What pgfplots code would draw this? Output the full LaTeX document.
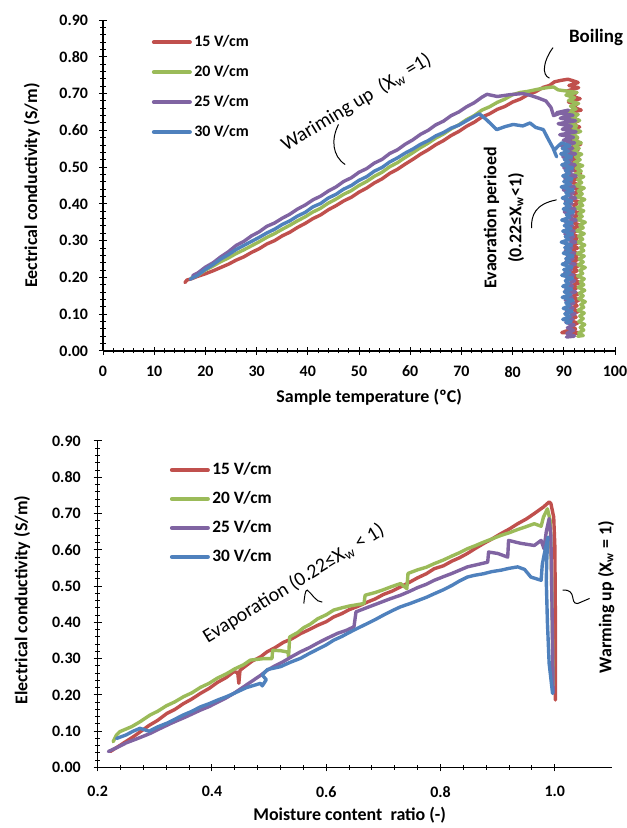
\documentclass[border=0pt]{standalone}
\usepackage{fontspec}
\setmainfont{Carlito}
\usepackage{pgfplots}
\pgfplotsset{compat=1.18}

\definecolor{sRed}{HTML}{C0504D}
\definecolor{sGreen}{HTML}{9BBB59}
\definecolor{sPurple}{HTML}{8064A2}
\definecolor{sBlue}{HTML}{4F81BD}

\tikzset{lbl/.style={font=\bfseries\fontsize{9}{11}\selectfont, anchor=center}}
\pgfplotsset{
  ecplot/.style={
    scale only axis, axis lines*=left, clip=false,
    axis line style={line width=0.6bp, -},
    tick align=center, major tick length=4bp, minor tick length=2.5bp,
    every tick/.style={black, line width=0.5bp},
    ymin=0, ymax=0.9, ytick={0,0.1,0.2,0.3,0.4,0.5,0.6,0.7,0.8,0.9},
    minor y tick num=4, minor x tick num=4,
    /pgf/number format/assume math mode=true,
    ticklabel style={font=\bfseries\fontsize{8}{9.6}\selectfont},
    yticklabel style={/pgf/number format/fixed, /pgf/number format/fixed zerofill,
      /pgf/number format/precision=2, xshift=-2bp},
    legend cell align=left,
    legend image code/.code={\draw[line width=2bp, line cap=round] (0bp,0bp) -- (18bp,0bp);},
    every axis plot/.append style={line width=1.7bp, line join=round, line cap=round},
  },
}

\begin{document}
\begin{tikzpicture}
\path[use as bounding box] (0,0) rectangle (313.5bp,414bp);

% ---------- top: conductivity vs temperature ----------
\begin{axis}[ecplot,
  at={(51.5bp,238.5bp)}, anchor=south west,
  width=256bp, height=165.5bp,
  xmin=0, xmax=100, xtick={0,10,20,30,40,50,60,70,80,90,100},
  xticklabel style={yshift=-2bp},
  xlabel={Sample temperature (ºC)},
  ylabel={Eectrical conductivity (S/m)},
  every axis x label/.style={lbl, at={(axis description cs:0.52,-0.139)}},
  every axis y label/.style={lbl, at={(axis description cs:-0.139,0.5)}, rotate=90},
  legend style={draw=none, fill=none, at={(0.083,0.975)}, anchor=north west,
    row sep=5.5bp, font=\bfseries\fontsize{8}{9.6}\selectfont, nodes={inner sep=1.2bp}},
]
\addplot[sRed] coordinates {
(16.0,0.186)(16.4,0.193)(17.2,0.196)(18.5,0.203)(20,0.210)(21.5,0.218)(23,0.227)(24.5,0.236)
(26,0.247)(27.5,0.256)(29,0.268)(30.5,0.278)(32,0.291)(33.5,0.300)(35,0.313)(36.5,0.323)
(38,0.336)(39.5,0.347)(41,0.360)(42.5,0.370)(44,0.384)(45.5,0.395)(47,0.408)(48.5,0.418)
(50,0.432)(51.5,0.443)(53,0.457)(54.5,0.468)(56,0.483)(57.5,0.494)(59,0.508)(60.5,0.521)
(62,0.535)(63.5,0.547)(65,0.561)(66.5,0.572)(68,0.586)(69.5,0.597)(71,0.611)(72.5,0.622)
(74,0.636)(75.5,0.645)(77,0.657)(78.5,0.665)(80,0.677)(81.5,0.685)(83,0.697)(84.5,0.705)
(86,0.717)(87.2,0.722)(88.2,0.732)(89.5,0.736)(90.8,0.739)(92.0,0.734)(92.8,0.73)
(91.0,0.722)(92.9,0.716)(90.6,0.707)(92.3,0.700)(91.2,0.694)(93.2,0.686)(90.9,0.677)(92.6,0.671)
(91.6,0.664)(93.4,0.655)(91.1,0.648)(92.4,0.640)(90.7,0.632)(92.9,0.626)(91.5,0.617)(93.1,0.609)
(91.0,0.603)(92.2,0.594)(90.8,0.586)(92.7,0.579)(91.4,0.571)(93.3,0.562)(91.7,0.556)(92.8,0.547)
(91.2,0.539)(93.0,0.531)(91.6,0.524)(92.5,0.516)(91.0,0.508)(92.9,0.499)(91.8,0.492)(93.3,0.484)
(91.5,0.476)(92.6,0.468)(91.1,0.461)(92.9,0.452)(91.7,0.444)(93.4,0.437)(92.0,0.429)(92.8,0.420)
(91.3,0.413)(93.1,0.405)(91.9,0.397)(92.7,0.389)(91.4,0.382)(93.2,0.374)(92.1,0.366)(92.9,0.358)
(91.6,0.350)(93.3,0.342)(91.9,0.335)(92.6,0.327)(91.2,0.319)(92.9,0.311)(91.8,0.303)(93.2,0.296)
(91.5,0.288)(92.7,0.280)(91.3,0.272)(93.0,0.264)(92.0,0.257)(92.8,0.249)(91.4,0.241)(93.1,0.233)
(91.8,0.225)(92.6,0.218)(91.1,0.210)(92.9,0.202)(91.7,0.194)(93.2,0.186)(91.6,0.178)(92.5,0.171)
(91.2,0.163)(92.8,0.155)(91.5,0.147)(93.0,0.139)(91.9,0.131)(92.6,0.123)(91.3,0.116)(92.9,0.108)
(91.7,0.100)(92.4,0.092)(91.0,0.084)(92.7,0.076)(91.5,0.068)(92.3,0.060)(90.4,0.054)(89.6,0.050)
(92.8,0.048)(91.0,0.052)(93.0,0.050)
};
\addlegendentry{15 V/cm}
\addplot[sGreen] coordinates {
(17.2,0.198)(18.5,0.206)(20,0.220)(21.5,0.231)(23,0.243)(24.5,0.253)(26,0.265)(27.5,0.275)
(29,0.286)(30.5,0.297)(32,0.309)(33.5,0.319)(35,0.331)(36.5,0.342)(38,0.354)(39.5,0.365)
(41,0.378)(42.5,0.388)(44,0.402)(45.5,0.413)(47,0.426)(48.5,0.436)(50,0.450)(51.5,0.461)
(53,0.475)(54.5,0.486)(56,0.501)(57.5,0.512)(59,0.526)(60.5,0.539)(62,0.553)(63.5,0.565)
(65,0.579)(66.5,0.590)(68,0.604)(69.5,0.615)(71,0.629)(72.5,0.640)(74,0.655)(75.5,0.664)
(77,0.676)(78.5,0.685)(80,0.697)(81.5,0.703)(83,0.706)(85,0.712)(86.7,0.716)(88,0.718)(88.9,0.710)
(92.6,0.703)(90.4,0.696)(92.1,0.689)(90.9,0.681)(92.9,0.673)(91.3,0.666)(92.4,0.658)(90.7,0.650)
(92.8,0.643)(91.6,0.635)(93.1,0.627)(91.2,0.620)(92.5,0.612)(91.8,0.604)(93.3,0.597)(91.5,0.589)
(92.7,0.581)(91.9,0.574)(93.4,0.566)(92.0,0.558)(93.0,0.551)(91.7,0.543)(93.5,0.535)(92.3,0.528)
(93.2,0.520)(92.0,0.512)(93.7,0.504)(92.4,0.497)(93.4,0.489)(92.2,0.481)(93.9,0.474)(92.7,0.466)
(93.5,0.458)(92.3,0.450)(94.0,0.443)(92.8,0.435)(93.6,0.427)(92.5,0.420)(94.1,0.412)(93.0,0.404)
(93.7,0.396)(92.4,0.389)(93.9,0.381)(92.9,0.373)(93.6,0.366)(92.6,0.358)(94.2,0.350)(93.1,0.342)
(93.8,0.335)(92.5,0.327)(94.0,0.319)(92.9,0.312)(93.7,0.304)(92.7,0.296)(94.1,0.288)(93.2,0.281)
(93.9,0.273)(92.6,0.265)(94.0,0.258)(93.0,0.250)(93.8,0.242)(92.8,0.234)(94.2,0.227)(93.1,0.219)
(93.7,0.211)(92.7,0.204)(94.0,0.196)(93.2,0.188)(93.9,0.180)(92.8,0.173)(94.1,0.165)(93.0,0.157)
(93.8,0.150)(92.9,0.142)(94.2,0.134)(93.3,0.126)(93.9,0.119)(92.8,0.111)(94.0,0.103)(93.1,0.095)
(93.8,0.088)(92.9,0.080)(94.1,0.072)(93.2,0.064)(93.9,0.057)(92.9,0.049)(93.8,0.042)(92.7,0.040)
};
\addlegendentry{20 V/cm}
\addplot[sPurple] coordinates {
(17.5,0.205)(18.5,0.212)(20,0.228)(21.5,0.240)(23,0.256)(24.5,0.270)(26,0.287)(27.5,0.298)
(29,0.313)(30.5,0.324)(32,0.339)(33.5,0.348)(35,0.361)(36.5,0.372)(38,0.386)(39.5,0.397)
(41,0.411)(42.5,0.421)(44,0.435)(45.5,0.446)(47,0.461)(48.5,0.471)(50,0.486)(51.5,0.496)
(53,0.511)(54.5,0.521)(56,0.537)(57.5,0.547)(59,0.562)(60.5,0.574)(62,0.589)(63.5,0.600)
(65,0.615)(66.5,0.625)(68,0.640)(69.5,0.650)(71,0.664)(72.5,0.675)(74,0.690)(75,0.698)
(77,0.692)(79.5,0.697)(82,0.700)(83.5,0.695)(85,0.688)(86.5,0.680)(87.5,0.662)(88,0.64)
(90.9,0.655)(88.6,0.648)(91.8,0.641)(89.3,0.633)(92.3,0.626)(88.9,0.618)(91.5,0.611)(89.7,0.603)
(92.4,0.596)(89.2,0.588)(91.9,0.581)(89.9,0.573)(92.1,0.566)(89.5,0.558)(91.7,0.551)(90.2,0.543)
(92.3,0.536)(89.8,0.528)(91.6,0.521)(90.4,0.513)(92.2,0.506)(90.0,0.498)(91.8,0.491)(90.5,0.483)
(92.4,0.476)(90.2,0.468)(91.5,0.461)(90.6,0.453)(92.1,0.446)(89.9,0.438)(91.9,0.431)(90.7,0.423)
(92.3,0.416)(90.3,0.408)(91.6,0.401)(90.5,0.393)(92.2,0.386)(90.1,0.378)(91.8,0.371)(90.8,0.363)
(92.4,0.356)(90.4,0.348)(91.7,0.341)(90.6,0.333)(92.0,0.326)(90.2,0.318)(91.9,0.311)(90.9,0.303)
(92.3,0.296)(90.5,0.288)(91.6,0.281)(90.3,0.273)(92.1,0.266)(90.7,0.258)(91.8,0.251)(90.4,0.243)
(92.2,0.236)(90.8,0.228)(91.5,0.221)(90.2,0.213)(91.9,0.206)(90.6,0.198)(92.1,0.191)(90.9,0.183)
(91.7,0.176)(90.4,0.168)(92.3,0.161)(90.7,0.153)(91.6,0.146)(90.3,0.138)(92.0,0.131)(90.8,0.123)
(91.8,0.116)(90.5,0.108)(92.2,0.101)(90.9,0.093)(91.7,0.086)(90.4,0.078)(92.0,0.071)(90.7,0.063)
(91.9,0.056)(90.6,0.048)(92.1,0.041)(90.5,0.038)(92.0,0.040)
};
\addlegendentry{25 V/cm}
\addplot[sBlue] coordinates {
(17.0,0.195)(18.5,0.206)(20,0.222)(21.5,0.235)(23,0.250)(24.5,0.262)(26,0.276)(27.5,0.287)
(29,0.298)(30.5,0.309)(32,0.321)(33.5,0.331)(35,0.344)(36.5,0.354)(38,0.367)(39.5,0.377)
(41,0.392)(42.5,0.401)(44,0.416)(45.5,0.426)(47,0.440)(48.5,0.450)(50,0.464)(51.5,0.474)
(53,0.489)(54.5,0.499)(56,0.514)(57.5,0.525)(59,0.538)(60.5,0.549)(62,0.562)(63.5,0.572)
(65,0.585)(66.5,0.594)(68,0.606)(69.5,0.614)(71,0.626)(72.5,0.638)(73.5,0.645)(74.9,0.629)
(76.9,0.602)(78.5,0.610)(80.1,0.616)(82,0.612)(83.4,0.620)(84.5,0.608)(86,0.602)(87,0.575)
(87.9,0.552)(88.6,0.528)(88.1,0.545)(88.8,0.556)(89.6,0.566)
(91.2,0.558)(89.7,0.551)(90.9,0.543)(89.4,0.536)(91.5,0.528)(90.1,0.521)(91.0,0.513)(89.6,0.506)
(91.7,0.498)(90.3,0.491)(91.1,0.483)(89.8,0.476)(91.6,0.468)(90.0,0.461)(91.3,0.453)(89.5,0.446)
(91.8,0.438)(90.4,0.431)(91.0,0.423)(89.7,0.416)(91.5,0.408)(90.2,0.401)(91.2,0.393)(89.9,0.386)
(91.9,0.378)(90.5,0.371)(91.1,0.363)(89.6,0.356)(91.6,0.348)(90.1,0.341)(91.4,0.333)(89.8,0.326)
(91.7,0.318)(90.3,0.311)(91.0,0.303)(89.5,0.296)(91.5,0.288)(90.2,0.281)(91.3,0.273)(89.9,0.266)
(91.8,0.258)(90.4,0.251)(91.1,0.243)(89.7,0.236)(91.6,0.228)(90.0,0.221)(91.2,0.213)(89.6,0.206)
(91.7,0.198)(90.3,0.191)(91.0,0.183)(89.8,0.176)(91.5,0.168)(90.1,0.161)(91.3,0.153)(89.7,0.146)
(91.8,0.138)(90.4,0.131)(91.1,0.123)(89.9,0.116)(91.6,0.108)(90.2,0.101)(91.2,0.093)(89.8,0.086)
(91.4,0.080)(90.5,0.076)
};
\addlegendentry{30 V/cm}

\node[font=\bfseries\fontsize{9.5}{11}\selectfont] at (axis cs:96.3,0.853) {Boiling};
\draw[line width=0.5bp] (axis cs:87.9,0.825) .. controls (axis cs:86.0,0.79) and (axis cs:85.6,0.75) .. (axis cs:87.2,0.742);
\node[rotate=31, font=\fontsize{10}{12}\selectfont] at (axis cs:49.5,0.675) {Wariming up\ \ (X\textsubscript{w} =1)};
\draw[line width=0.5bp] (axis cs:46.0,0.616) .. controls (axis cs:44.5,0.575) and (axis cs:44.8,0.53) .. (axis cs:47.3,0.507);
\node[rotate=90, align=center, font=\bfseries\fontsize{9}{12.5}\selectfont] at (axis cs:78.3,0.362) {Evaoration perioed\\(0.22≤X\textsubscript{w}<1)};
\draw[line width=0.5bp] (axis cs:83.7,0.334) .. controls (axis cs:83.6,0.37) and (axis cs:84.5,0.40) .. (axis cs:88.6,0.411);
\end{axis}

% ---------- bottom: conductivity vs moisture ratio ----------
\begin{axis}[ecplot,
  at={(48.85bp,30.25bp)}, anchor=south west,
  width=257.15bp, height=163.25bp,
  xmin=0.2, xmax=1.1, xtick={0.2,0.4,0.6,0.8,1.0},
  xticklabel style={/pgf/number format/fixed, /pgf/number format/fixed zerofill,
      /pgf/number format/precision=1, yshift=-4bp},
  yticklabel style={xshift=-1bp},
  xlabel={Moisture content\ \ ratio (-)},
  ylabel={Electrical conductivity (S/m)},
  every axis x label/.style={lbl, at={(axis description cs:0.49,-0.145)}},
  every axis y label/.style={lbl, at={(axis description cs:-0.147,0.513)}, rotate=90},
  legend style={draw=none, fill=none, at={(0.128,0.955)}, anchor=north west,
    row sep=4.5bp, font=\bfseries\fontsize{8.7}{10}\selectfont, nodes={inner sep=1.2bp}},
]
\addplot[sRed] coordinates {
(0.222,0.044)(0.24,0.062)(0.2625,0.085)(0.29,0.116)(0.305,0.130)(0.321,0.149)(0.335,0.160)
(0.35,0.176)(0.365,0.189)(0.3795,0.204)(0.395,0.218)(0.41,0.235)(0.425,0.248)(0.438,0.264)
(0.445,0.262)(0.447,0.232)(0.449,0.268)(0.47,0.293)(0.485,0.305)(0.4965,0.319)(0.51,0.330)
(0.525,0.345)(0.54,0.355)(0.555,0.369)(0.57,0.380)(0.585,0.392)(0.60,0.402)(0.613,0.415)
(0.627,0.424)(0.64,0.435)(0.655,0.444)(0.672,0.456)(0.686,0.465)(0.70,0.477)(0.715,0.486)
(0.730,0.498)(0.745,0.510)(0.76,0.523)(0.775,0.534)(0.789,0.548)(0.805,0.556)(0.82,0.569)
(0.833,0.578)(0.847,0.590)(0.86,0.603)(0.875,0.617)(0.89,0.630)(0.906,0.645)(0.92,0.657)
(0.935,0.672)(0.95,0.685)(0.964,0.700)(0.98,0.718)(0.990,0.732)(0.993,0.728)(0.998,0.69)
(1.0,0.61)(1.001,0.40)(1.001,0.186)
};
\addlegendentry{15 V/cm}
\addplot[sGreen] coordinates {
(0.227,0.071)(0.233,0.090)(0.239,0.099)(0.26,0.113)(0.275,0.127)(0.292,0.145)(0.305,0.155)
(0.32,0.170)(0.335,0.181)(0.350,0.195)(0.365,0.206)(0.38,0.221)(0.395,0.232)(0.409,0.246)
(0.425,0.258)(0.44,0.272)(0.455,0.283)(0.467,0.296)(0.49,0.300)(0.505,0.300)(0.506,0.323)
(0.52,0.322)(0.533,0.318)(0.534,0.305)(0.536,0.360)(0.55,0.372)(0.56,0.385)(0.572,0.395)
(0.585,0.410)(0.60,0.421)(0.613,0.434)(0.627,0.440)(0.64,0.445)(0.666,0.452)(0.668,0.475)
(0.685,0.482)(0.70,0.490)(0.715,0.499)(0.730,0.507)(0.741,0.493)(0.743,0.535)(0.76,0.545)
(0.775,0.552)(0.789,0.562)(0.805,0.572)(0.82,0.583)(0.833,0.592)(0.847,0.603)(0.86,0.611)
(0.875,0.621)(0.89,0.630)(0.906,0.640)(0.92,0.647)(0.935,0.656)(0.95,0.664)(0.964,0.672)
(0.976,0.665)(0.980,0.69)(0.987,0.713)(0.992,0.68)(0.994,0.55)(0.996,0.35)(0.997,0.22)
};
\addlegendentry{20 V/cm}
\addplot[sPurple] coordinates {
(0.2186,0.044)(0.235,0.056)(0.25,0.068)(0.27,0.080)(0.292,0.094)(0.31,0.108)(0.33,0.123)
(0.355,0.140)(0.3795,0.158)(0.395,0.168)(0.41,0.180)(0.425,0.192)(0.438,0.204)(0.455,0.222)
(0.47,0.238)(0.485,0.254)(0.4965,0.268)(0.51,0.280)(0.525,0.292)(0.54,0.306)(0.555,0.319)
(0.57,0.330)(0.585,0.343)(0.60,0.355)(0.62,0.370)(0.635,0.378)(0.6485,0.388)(0.652,0.429)
(0.67,0.440)(0.69,0.452)(0.71,0.464)(0.730,0.475)(0.745,0.485)(0.76,0.496)(0.775,0.505)
(0.789,0.516)(0.805,0.526)(0.82,0.535)(0.835,0.545)(0.847,0.553)(0.8825,0.566)(0.884,0.594)
(0.90,0.590)(0.9175,0.580)(0.919,0.626)(0.94,0.618)(0.964,0.612)(0.976,0.626)(0.981,0.603)
(0.985,0.65)(0.990,0.686)(0.993,0.64)(0.995,0.45)(0.997,0.205)
};
\addlegendentry{25 V/cm}
\addplot[sBlue] coordinates {
(0.233,0.080)(0.25,0.090)(0.262,0.100)(0.274,0.108)(0.29,0.100)(0.305,0.112)(0.321,0.122)
(0.335,0.133)(0.35,0.145)(0.365,0.155)(0.3795,0.167)(0.395,0.176)(0.41,0.186)(0.425,0.195)
(0.438,0.204)(0.46,0.220)(0.485,0.232)(0.488,0.225)(0.495,0.242)(0.488,0.255)(0.497,0.270)
(0.52,0.278)(0.537,0.290)(0.555,0.301)(0.57,0.314)(0.585,0.326)(0.60,0.338)(0.613,0.351)
(0.627,0.361)(0.64,0.372)(0.655,0.384)(0.672,0.397)(0.686,0.408)(0.70,0.420)(0.715,0.432)
(0.730,0.443)(0.745,0.451)(0.76,0.460)(0.775,0.469)(0.789,0.479)(0.805,0.490)(0.82,0.502)
(0.833,0.514)(0.847,0.525)(0.86,0.530)(0.875,0.534)(0.89,0.540)(0.906,0.544)(0.92,0.549)
(0.935,0.553)(0.947,0.546)(0.958,0.525)(0.976,0.516)(0.978,0.56)(0.983,0.60)(0.988,0.635)
(0.986,0.58)(0.985,0.516)(0.987,0.40)(0.990,0.287)(0.996,0.204)
};
\addlegendentry{30 V/cm}

\node[rotate=31.6, font=\fontsize{10}{12}\selectfont] at (axis cs:0.543,0.507) {Evaporation (0.22≤X\textsubscript{w} < 1)};
\draw[line width=0.5bp] (axis cs:0.5607,0.452) .. controls (axis cs:0.562,0.47) and (axis cs:0.563,0.49) .. (axis cs:0.5667,0.489) .. controls (axis cs:0.575,0.48) and (axis cs:0.582,0.455) .. (axis cs:0.593,0.456);
\node[rotate=90, font=\bfseries\fontsize{9}{11}\selectfont] at (axis cs:1.09,0.47) {Warming up (X\textsubscript{w} = 1)};
\draw[line width=0.5bp] (axis cs:1.0135,0.489) .. controls (axis cs:1.04,0.492) and (axis cs:1.025,0.45) .. (axis cs:1.04,0.452) -- (axis cs:1.0608,0.466);
\end{axis}
\end{tikzpicture}
\end{document}
